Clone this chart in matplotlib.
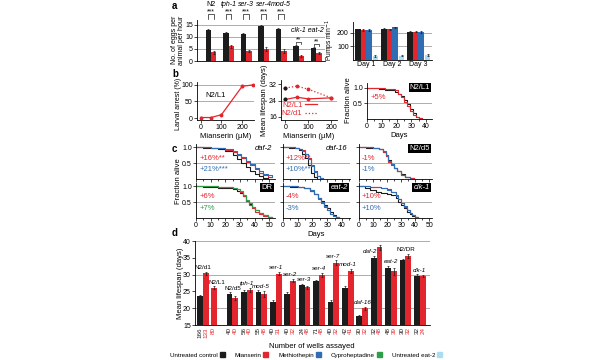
import numpy as np
import matplotlib.pyplot as plt
from matplotlib.lines import Line2D
from matplotlib.patches import Patch
from matplotlib.transforms import blended_transform_factory

plt.rcParams['font.family'] = ['Liberation Sans', 'DejaVu Sans']
plt.rcParams['font.size'] = 5
plt.rcParams['axes.linewidth'] = 0.6

BLACK = '#1c1c1c'
RED = '#e3262d'
BLUE = '#2f6db5'
GREEN = '#2e9e48'
LIGHTBLUE = '#aadcf2'
GRAY = '#a0a0a0'

# --- a: egg laying and pumping ---
egg_groups = ['N2', 'tph-1', 'ser-3', 'ser-4', 'mod-5', 'clk-1', 'eat-2']
eggs_ctrl = [12.8, 11.5, 11.1, 14.7, 13.3, 6.3, 5.4]
eggs_ctrl_err = [0.4, 0.4, 0.5, 0.4, 0.5, 0.4, 0.4]
eggs_mians = [3.6, 6.1, 4.1, 4.9, 4.0, 2.2, 3.3]
eggs_mians_err = [0.6, 0.6, 0.4, 0.8, 0.8, 0.4, 0.4]
egg_sig = ['***', '***', '***', '***', '***', '**', '**']

pump_days = ['Day 1', 'Day 2', 'Day 3']
pump_ctrl = [225, 232, 205]
pump_mians = [220, 226, 210]
pump_meth = [222, 240, 208]
pump_eat2 = [30, 32, 35]
pump_err = [6, 6, 6]

# --- b: dose response ---
dose_arrest = [0, 50, 100, 200, 250]
larval_arrest = [1.5, 1.5, 10, 96, 100]
dose_life = [0, 50, 100, 200]
life_L1 = [24.5, 25.6, 24.8, 25.3]
life_d1 = [30.1, 31.0, 29.5, 25.3]

b3_days = [0, 4, 8, 12, 16, 19, 21, 23, 25, 27, 29, 31, 33, 35, 37]
b3_ctrl = [1, .99, .97, .95, .92, .88, .82, .75, .62, .48, .32, .18, .08, .03, 0]
b3_mians = [1, 1, 1, .98, .96, .93, .82, .70, .55, .42, .27, .12, .05, .02, 0]

# --- c: survival curves ---
daf2_days = [0, 5, 10, 15, 20, 25, 28, 31, 34, 37, 40, 43, 46, 49, 52]
daf2_ctrl = [1, .99, .97, .94, .88, .75, .62, .50, .38, .26, .16, .08, .03, 0, 0]
daf2_mians = [1, 1, .98, .96, .92, .85, .76, .66, .55, .43, .32, .20, .12, .07, .05]
daf2_meth = [1, 1, .99, .97, .94, .88, .80, .70, .58, .47, .36, .25, .17, .12, .10]

daf16_days = [0, 4, 8, 11, 13, 15, 17, 19, 21, 23, 25, 27]
daf16_ctrl = [1, .99, .96, .90, .80, .65, .45, .20, .05, 0, 0, 0]
daf16_mians = [1, 1, .98, .95, .90, .80, .65, .45, .25, .10, .02, 0]
daf16_meth = [1, 1, .98, .94, .88, .78, .62, .42, .22, .08, .02, 0]

d5_days = [0, 5, 10, 14, 17, 19, 21, 23, 25, 27, 30, 33, 36, 39]
d5_ctrl = [1, .99, .97, .93, .85, .75, .60, .48, .35, .25, .15, .07, .02, 0]
d5_mians = [1, 1, .98, .94, .86, .72, .55, .45, .35, .25, .14, .06, .02, 0]
d5_meth = [1, 1, .98, .95, .88, .76, .58, .46, .34, .24, .13, .06, .01, 0]

dr_days = [0, 5, 10, 15, 20, 25, 28, 30, 32, 34, 36, 38, 40, 43, 46, 49, 52]
dr_ctrl = [1, .99, .97, .95, .93, .90, .85, .78, .68, .55, .45, .35, .25, .15, .08, .03, 0]
dr_mians = [1, 1, 1, .99, .97, .94, .90, .82, .70, .55, .42, .30, .20, .12, .06, .02, 0]
dr_cypro = [1, 1, 1, .99, .97, .95, .91, .84, .72, .58, .46, .34, .24, .15, .08, .03, 0]

eat2_days = [0, 5, 10, 14, 18, 21, 24, 26, 28, 30, 32, 34, 36, 38]
eat2_ctrl = [1, .99, .97, .93, .85, .75, .62, .52, .42, .30, .18, .08, .02, 0]
eat2_mians = [1, 1, .98, .94, .86, .74, .60, .48, .36, .24, .12, .05, .01, 0]
eat2_meth = [1, 1, .98, .94, .87, .76, .62, .50, .38, .26, .14, .06, .02, 0]

clk1_days = [0, 4, 8, 12, 16, 20, 23, 26, 28, 30, 32, 34, 36, 38, 40, 42]
clk1_ctrl = [1, .95, .88, .83, .80, .77, .72, .62, .50, .40, .30, .20, .12, .06, .02, 0]
clk1_mians = [1, 1, .99, .97, .95, .90, .83, .72, .60, .48, .36, .25, .15, .08, .03, 0]
clk1_meth = [1, 1, .99, .97, .94, .89, .82, .70, .60, .48, .37, .26, .16, .09, .04, 0]

# --- d: mean lifespan ---
d_groups = ['N2/d1', 'N2/d5', 'tph-1', 'mod-5', 'ser-1', 'ser-2', 'ser-3', 'ser-4',
            'ser-7', 'mod-1', 'daf-16', 'daf-2', 'eat-2', 'N2/DR', 'clk-1']
d_ctrl = [23.6, 24.1, 24.8, 24.8, 21.9, 24.3, 26.8, 28.0, 21.8, 26.0, 17.6, 34.8, 32.1, 34.2, 29.7]
d_mians = [30.4, 23.0, 25.5, 24.2, 30.3, 28.2, 26.2, 30.0, 33.5, 31.1, 20.0, 38.1, 31.0, 35.5, 29.6]
d_ctrl_err = [0.3, 0.6, 0.5, 0.5, 0.5, 0.5, 0.4, 0.5, 0.5, 0.6, 0.4, 0.6, 0.5, 0.5, 0.4]
d_mians_err = [0.4, 0.6, 0.6, 0.9, 0.5, 0.5, 0.5, 0.6, 0.7, 0.7, 0.5, 0.7, 1.0, 0.6, 0.4]
d_ctrl_n = [166, 40, 56, 55, 40, 40, 24, 71, 40, 42, 30, 32, 48, 30, 32]
d_mians_n = [133, 40, 40, 48, 31, 32, 48, 48, 32, 41, 32, 48, 39, 32, 24]
L1_life = 26.1
L1_err = 0.4
L1_n = 80

W, H = 600, 360
fig = plt.figure(figsize=(6, 3.6), dpi=100)


def add_ax(l, t, r, b):
    ax = fig.add_axes([l / W, 1 - b / H, (r - l) / W, (b - t) / H])
    ax.spines['top'].set_visible(False)
    ax.spines['right'].set_visible(False)
    ax.tick_params(length=2, width=0.5, labelsize=5, pad=1)
    ax.tick_params(which='minor', length=1.2, width=0.5)
    return ax


def panel_letter(x, y, s):
    fig.text(x / W, 1 - y / H, s, fontsize=7, fontweight='bold', va='center')


def grid(ax, vals):
    for v in vals:
        ax.axhline(v, color=GRAY, lw=0.6, zorder=0)


ekw = dict(elinewidth=0.5, capsize=0.8, capthick=0.5, ecolor=BLACK)

# ---------------- a ----------------
panel_letter(172, 6, 'a')
ax = add_ax(197, 20, 325, 61)
xa = np.arange(len(egg_groups))
w = 0.31
ax.bar(xa - w / 2, eggs_ctrl, w, yerr=eggs_ctrl_err, color=BLACK, error_kw=ekw, zorder=2)
ax.bar(xa + w / 2, eggs_mians, w, yerr=eggs_mians_err, color=RED, error_kw=ekw, zorder=2)
grid(ax, [5, 10, 15])
ax.set_xlim(-0.8, 6.5)
ax.set_ylim(0, 17)
ax.set_xticks([])
ax.set_yticks([0, 5, 10, 15])
for i, s in enumerate(egg_sig):
    if s == '***':
        top, leg = 19.6, 17.3
    else:
        top = eggs_ctrl[i] + eggs_ctrl_err[i] + 1.2
        leg = top - 0.7
    ax.plot([xa[i] - w / 2, xa[i] - w / 2, xa[i] + w / 2, xa[i] + w / 2],
            [leg, top, top, leg], color=BLACK, lw=0.5, clip_on=False)
    ax.text(xa[i], top - 0.7, s, ha='center', va='bottom', fontsize=5, clip_on=False)
for i, g in enumerate(egg_groups[:5]):
    ax.text(xa[i], 23.3, g, ha='center', va='center', fontsize=5,
            style='normal' if g == 'N2' else 'italic', clip_on=False)
ax.text((xa[5] + xa[6]) / 2, 12.6, ' '.join(egg_groups[5:]), ha='center', va='center',
        fontsize=5, style='italic')
fig.text(178 / W, 1 - 40 / H, 'No. of eggs per\nanimal per hour', rotation=90,
         ha='center', va='center', fontsize=5, linespacing=1.0)

ax = add_ax(353, 22, 432, 60)
xp = np.arange(len(pump_days))
wp = 0.21
ax.bar(xp - wp, pump_ctrl, wp, yerr=pump_err, color=BLACK, error_kw=ekw, zorder=2)
ax.bar(xp, pump_mians, wp, yerr=pump_err, color=RED, error_kw=ekw, zorder=2)
ax.bar(xp + wp, pump_meth, wp, yerr=pump_err, color=BLUE, error_kw=ekw, zorder=2)
ax.bar(xp + 2.2 * wp, pump_eat2, wp, yerr=pump_err, color=LIGHTBLUE, error_kw=ekw, zorder=2)
grid(ax, [100, 200])
ax.set_xlim(-0.4, 2.63)
ax.set_ylim(0, 280)
ax.set_yticks([100, 200])
ax.set_xticks(xp + 0.1)
ax.set_xticklabels(pump_days, fontsize=5)
ax.tick_params(axis='x', length=0)
fig.text(330 / W, 1 - 40 / H, 'Pumps min$^{-1}$', rotation=90, ha='center', va='center',
         fontsize=4.8)

# ---------------- b ----------------
panel_letter(172, 74, 'b')
ax = add_ax(197, 82, 254, 120)
grid(ax, [50, 100])
ax.plot(dose_arrest, larval_arrest, color=RED, lw=0.9, marker='o', ms=1.8, zorder=3)
ax.errorbar(dose_arrest, larval_arrest, yerr=[1, 1, 2, 3, 1], fmt='none', ecolor=RED,
            elinewidth=0.5, capsize=0.8)
ax.set_xlim(-18, 257)
ax.set_ylim(-6, 109)
ax.set_xticks([0, 100, 200])
ax.set_yticks([0, 50, 100])
ax.text(0.14, 0.64, 'N2/L1', transform=ax.transAxes, fontsize=5.5, va='center')
ax.set_xlabel('Mianserin (µM)', fontsize=5.5, labelpad=1)
fig.text(179 / W, 1 - 104 / H, 'Larval arrest (%)', rotation=90, ha='center', va='center',
         fontsize=5)

ax = add_ax(281, 80, 337, 120)
grid(ax, [24])
ax.plot(dose_life, life_L1, color=RED, lw=0.9, marker='o', ms=1.8)
ax.plot(dose_life, life_d1, color=RED, lw=0.9, ls=':', marker='o', ms=1.8)
ax.plot(dose_life[:1], life_L1[:1], 'o', color=BLACK, ms=1.8)
ax.plot(dose_life[:1], life_d1[:1], 'o', color=BLACK, ms=1.8)
ax.set_xlim(-19, 225)
ax.set_ylim(14.5, 34)
ax.set_xticks([0, 100, 200])
ax.set_yticks([16, 24, 32])
ax.legend([Line2D([], [], color=RED, lw=0.9), Line2D([], [], color=RED, lw=0.9, ls=':')],
          ['N2/L1', 'N2/d1'], loc='lower left', bbox_to_anchor=(0.0, 0.05), markerfirst=False,
          frameon=False, fontsize=5.5, labelcolor=RED, handlelength=1.6, handletextpad=0.3,
          labelspacing=0.1, borderpad=0.1, borderaxespad=0)
ax.set_xlabel('Mianserin (µM)', fontsize=5.5, labelpad=1)
fig.text(265 / W, 1 - 100 / H, 'Mean lifespan (days)', rotation=90, ha='center',
         va='center', fontsize=5.5)


def box_label(ax, s, italic=False):
    ax.text(0.97, 0.97, s, transform=ax.transAxes, ha='right', va='top', color='white',
            fontsize=5.5, style='italic' if italic else 'normal',
            bbox=dict(boxstyle='square,pad=0.15', fc='black', ec='none'))


def surv_axes(ax, xmax):
    grid(ax, [0.5])
    ax.set_xlim(0, xmax)
    ax.set_ylim(0, 1.1)
    ax.set_yticks([0.5, 1.0])
    ax.set_yticklabels(['0.5', '1.0'])
    ax.set_xticks(np.arange(0, xmax, 10))
    ax.set_xticks(np.arange(5, xmax, 10), minor=True)


ax = add_ax(367, 83, 432, 119)
ax.step(b3_days, b3_ctrl, where='post', color=BLACK, lw=0.8)
ax.step(b3_days, b3_mians, where='post', color=RED, lw=0.8)
surv_axes(ax, 44)
ax.set_ylim(0, 1.16)
box_label(ax, 'N2/L1')
ax.text(0.06, 0.6, '+5%', transform=ax.transAxes, color=RED, fontsize=5.5, va='center')
ax.set_xlabel('Days', fontsize=5.5, labelpad=1)
fig.text(349 / W, 1 - 100 / H, 'Fraction alive', rotation=90, ha='center', va='center',
         fontsize=5.5)

# ---------------- c ----------------
panel_letter(172, 149, 'c')
c_panels = [
    ((196, 144, 275, 179), 54, daf2_days, [daf2_ctrl, daf2_mians, daf2_meth], BLUE,
     'daf-2', False, ['+16%**', '+21%***']),
    ((283, 144, 350, 179), 45.5, daf16_days, [daf16_ctrl, daf16_mians, daf16_meth], BLUE,
     'daf-16', False, ['+12%**', '+10%**']),
    ((359, 144, 432, 179), 52, d5_days, [d5_ctrl, d5_mians, d5_meth], BLUE,
     'N2/d5', True, ['-1%', '-1%']),
    ((196, 183, 275, 218), 54, dr_days, [dr_ctrl, dr_mians, dr_cypro], GREEN,
     'DR', True, ['+6%', '+7%']),
    ((283, 183, 350, 218), 45.5, eat2_days, [eat2_ctrl, eat2_mians, eat2_meth], BLUE,
     'eat-2', True, ['-4%', '-3%']),
    ((359, 183, 432, 218), 52, clk1_days, [clk1_ctrl, clk1_mians, clk1_meth], BLUE,
     'clk-1', True, ['+10%', '+10%']),
]
for k, (box, xmax, days, curves, third, name, boxed, pcts) in enumerate(c_panels):
    ax = add_ax(*box)
    ax.step(days, curves[0], where='post', color=BLACK, lw=0.8)
    ax.step(days, curves[1], where='post', color=RED, lw=0.8)
    ax.step(days, curves[2], where='post', color=third, lw=0.8)
    surv_axes(ax, xmax)
    italic = name not in ('N2/d5', 'DR')
    if boxed:
        box_label(ax, name, italic)
    else:
        ax.text(0.96, 0.97, name, transform=ax.transAxes, ha='right', va='top',
                fontsize=5.5, style='italic')
    ax.text(0.04, 0.6, pcts[0], transform=ax.transAxes, color=RED, fontsize=5.5, va='center')
    ax.text(0.04, 0.27, pcts[1], transform=ax.transAxes, color=third, fontsize=5.5,
            va='center')
    if k % 3 != 0:
        ax.set_yticklabels([])
    if k < 3:
        ax.set_xticklabels([])
    if k == 4:
        ax.set_xlabel('Days', fontsize=5.5, labelpad=1)
fig.text(178 / W, 1 - 181 / H, 'Fraction alive', rotation=90, ha='center', va='center',
         fontsize=5.5)

# ---------------- d ----------------
panel_letter(172, 233, 'd')
ax = add_ax(195, 241, 430, 325)
xd = np.concatenate([[-2.05], np.arange(len(d_groups) - 1)])
xL1 = xd[0] + 0.75
wd = 0.4
ax.bar(xd - wd / 2, d_ctrl, wd, yerr=d_ctrl_err, color=BLACK, error_kw=ekw, zorder=2)
ax.bar(xd + wd / 2, d_mians, wd, yerr=d_mians_err, color=RED, error_kw=ekw, zorder=2)
ax.bar([xL1], [L1_life], wd, yerr=[L1_err], color=RED, error_kw=ekw, zorder=2)
grid(ax, [20, 30, 40])
ax.set_xlim(-2.6, 13.7)
ax.set_ylim(15, 40)
ax.set_yticks([15, 20, 25, 30, 35, 40])
ax.set_xticks([])
for i, g in enumerate(d_groups):
    italic = not g.startswith('N2')
    if g == 'daf-2':
        ax.text(xd[i] + 0.05, d_ctrl[i] + d_ctrl_err[i] + 0.6, g, ha='right', va='bottom',
                fontsize=4.5, style='italic')
    else:
        top = max(d_ctrl[i] + d_ctrl_err[i], d_mians[i] + d_mians_err[i])
        ax.text(xd[i], top + 0.5, g, ha='center', va='bottom', fontsize=4.5,
                style='italic' if italic else 'normal')
ax.text(xL1 + 0.2, L1_life + L1_err + 0.5, 'N2/L1', ha='center', va='bottom', fontsize=4.5)
tr = blended_transform_factory(ax.transData, ax.transAxes)
for i in range(len(d_groups)):
    ax.text(xd[i] - wd / 2, -0.025, str(d_ctrl_n[i]), transform=tr, rotation=90,
            ha='center', va='top', fontsize=4.5, color=BLACK)
    ax.text(xd[i] + wd / 2, -0.025, str(d_mians_n[i]), transform=tr, rotation=90,
            ha='center', va='top', fontsize=4.5, color=RED)
ax.text(xL1, -0.025, str(L1_n), transform=tr, rotation=90, ha='center', va='top',
        fontsize=4.5, color=RED)
fig.text(312 / W, 1 - 346 / H, 'Number of wells assayed', ha='center', va='center',
         fontsize=5.5)
fig.text(180 / W, 1 - 283 / H, 'Mean lifespan (days)', rotation=90, ha='center',
         va='center', fontsize=5.5)

legend_labels = ['Untreated control', 'Mianserin', 'Methiothepin', 'Cyproheptadine',
                 'Untreated eat-2']
legend_colors = [BLACK, RED, BLUE, GREEN, LIGHTBLUE]
fig.legend([Patch(color=c) for c in legend_colors], legend_labels, ncol=5,
           markerfirst=False, frameon=False, loc='center',
           bbox_to_anchor=(306 / W, 1 - 355 / H), fontsize=4.5, handlelength=0.8,
           handleheight=0.8, handletextpad=0.3, columnspacing=1.6)

fig.savefig('out.png', dpi=100)
